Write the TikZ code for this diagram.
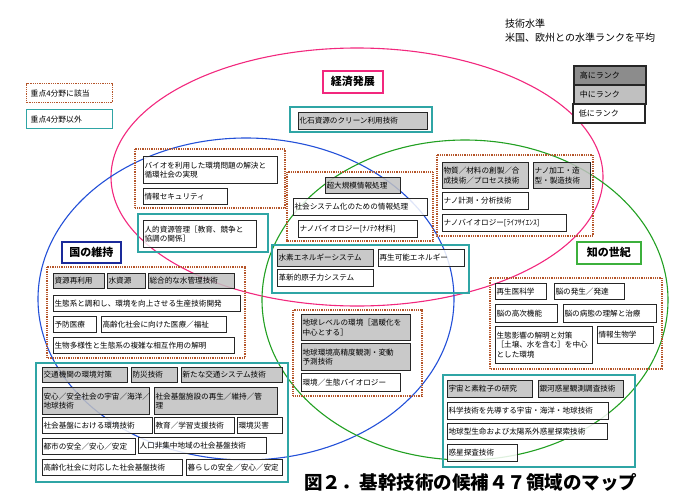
\documentclass[tikz,border=0pt]{standalone}
\usepackage{fontspec}
\newfontfamily\jp{Noto Sans CJK JP}
\usepackage{tikz}
\definecolor{ringpink}{HTML}{F2287E}
\definecolor{ringblue}{HTML}{2350D8}
\definecolor{ringgreen}{HTML}{22A022}
\definecolor{goalblue}{HTML}{1A2A9A}
\definecolor{goalgreen}{HTML}{3CB03C}
\definecolor{grpteal}{HTML}{2FA5A5}
\definecolor{grpbrown}{HTML}{B5552A}
\definecolor{rankhi}{HTML}{8C8C8C}
\definecolor{rankmid}{HTML}{C0C0C0}
\tikzset{
    tech/.style={draw=black!85, line width=1.1pt, fill=white, fill opacity=0.85, text opacity=1,
        anchor=north west, inner xsep=1pt, inner ysep=1pt, align=left,
        font=\jp\fontsize{7.6}{9.6}\selectfont},
    techhi/.style={tech, fill=rankmid},
    focus/.style={draw=grpbrown, line width=1.6pt, dash pattern=on 1pt off 0.8pt},
    nonfocus/.style={draw=grpteal, line width=1.2pt},
    ring/.style={line width=1.1pt},
    goal/.style={draw, line width=1.5pt, fill=white, anchor=north west, inner sep=0pt,
        font=\jp\bfseries\fontsize{11}{13}\selectfont},
    rank/.style={draw=black!85, line width=1.5pt, anchor=north west, inner xsep=6pt, inner ysep=0pt,
        text width=60pt, minimum height=19pt, align=left, font=\jp\fontsize{8}{10}\selectfont},
    legend/.style={line width=1.4pt, fill=white, anchor=north west, inner xsep=4pt, inner ysep=0pt,
        text width=78pt, minimum height=19pt, align=left, font=\jp\fontsize{7.8}{10}\selectfont}
}

\begin{document}
\begin{tikzpicture}[x=1pt, y=-1pt]
\useasboundingbox (0,0) rectangle (694,493);

% --- The three goals ---
\draw[ring, ringpink] (357,177) ellipse [x radius=246pt, y radius=129pt];
\draw[ring, ringblue] (246,299) ellipse [x radius=208pt, y radius=161pt];
\draw[ring, ringgreen] (465,300) ellipse [x radius=203pt, y radius=160pt];

\node[goal, draw=ringpink, minimum width=60pt, minimum height=22pt] (keizai) at (322,70) {経済発展};
\node[goal, draw=goalblue, minimum width=59pt, minimum height=21pt] (kuni) at (61,241) {国の維持};
\node[goal, draw=goalgreen, minimum width=64pt, minimum height=22pt] (chi) at (576,241) {知の世紀};

% --- Legend ---
\node[legend, draw=grpbrown, dash pattern=on 1pt off 0.8pt] (lgfocus) at (26,83) {重点4分野に該当};
\node[legend, draw=grpteal] (lgother) at (26,109) {重点4分野以外};

\node[anchor=north west, align=left, inner sep=0pt, font=\jp\fontsize{10}{14}\selectfont] (note) at (505,19)
    {技術水準\\米国、欧州との水準ランクを平均};
\node[rank, fill=rankhi] (rhi) at (573,65) {高にランク};
\node[rank, fill=rankmid] (rmid) at (573,84) {中にランク};
\node[rank, fill=white] (rlow) at (572,103) {低にランク};

% --- Groups (focus = dotted, others = teal) ---
\draw[nonfocus] (290,107) rectangle (432,132);
\draw[focus] (135,149) rectangle (285,208);
\draw[nonfocus] (138,214) rectangle (268,252);
\draw[focus] (287,172) rectangle (433,241);
\draw[focus] (437,155) rectangle (593,236);
\draw[nonfocus] (272,245) rectangle (469,293);
\draw[focus] (47,267) rectangle (245,358);
\draw[focus] (293,310) rectangle (422,396);
\draw[focus] (490,278) rectangle (662,369);
\draw[nonfocus] (36,363) rectangle (288,482);
\draw[nonfocus] (443,375) rectangle (635,467);

% --- Economy ---
\node[techhi, text width=127pt, minimum height=17pt] (fossil) at (298,112) {化石資源のクリーン利用技術};
\node[tech, text width=132pt, minimum height=27pt] (biocycle) at (143,156) {バイオを利用した環境問題の解決と\\循環社会の実現};
\node[tech, text width=82pt, minimum height=16pt] (infosec) at (143,188) {情報セキュリティ};
\node[tech, text width=111pt, minimum height=27pt] (human) at (143,220) {人的資源管理［教育、競争と\\協調の関係］};
\node[techhi, text width=73pt, minimum height=16pt] (hugeinfo) at (325,177) {超大規模情報処理};
\node[tech, text width=132pt, minimum height=17pt] (socinfo) at (293,198) {社会システム化のための情報処理};
\node[tech, text width=117pt, minimum height=17pt] (nanomat) at (298,220) {ナノバイオロジー[ﾅﾉﾃｸ材料]};
\node[techhi, text width=84pt, minimum height=26pt] (material) at (442,162) {物質／材料の創製／合\\成技術／プロセス技術};
\node[techhi, text width=55pt, minimum height=26pt] (nanofab) at (533,162) {ナノ加工・造\\型・製造技術};
\node[tech, text width=84pt, minimum height=17pt] (nanomeas) at (442,192) {ナノ計測・分析技術};
\node[tech, text width=122pt, minimum height=17pt] (nanolife) at (442,214) {ナノバイオロジー[ﾗｲﾌｻｲｴﾝｽ]};
\node[techhi, text width=94pt, minimum height=17pt] (hydrogen) at (277,249) {水素エネルギーシステム};
\node[tech, text width=84pt, minimum height=17pt] (renew) at (378,249) {再生可能エネルギー};
\node[tech, text width=94pt, minimum height=17pt] (nuclear) at (277,269) {革新的原子力システム};

% --- Nation ---
\node[techhi, text width=49pt, minimum height=15pt] (recycle) at (53,273) {資源再利用};
\node[techhi, text width=36pt, minimum height=15pt] (water) at (107,273) {水資源};
\node[techhi, text width=84pt, minimum height=15pt] (watermgmt) at (148,273) {総合的な水管理技術};
\node[tech, text width=185pt, minimum height=16pt] (ecoprod) at (53,295) {生態系と調和し、環境を向上させる生産技術開発};
\node[tech, text width=41pt, minimum height=16pt] (prevmed) at (53,316) {予防医療};
\node[tech, text width=123pt, minimum height=16pt] (agedmed) at (101,316) {高齢化社会に向けた医療／福祉};
\node[tech, text width=179pt, minimum height=16pt] (biodiv) at (53,337) {生物多様性と生態系の複雑な相互作用の解明};
\node[techhi, text width=107pt, minimum height=26pt] (warming) at (301,314) {地球レベルの環境［温暖化を\\中心とする］};
\node[techhi, text width=107pt, minimum height=27pt] (earthobs) at (301,343) {地球環境高精度観測・変動\\予測技術};
\node[tech, text width=97pt, minimum height=18pt] (ecobio) at (301,373) {環境／生態バイオロジー};

\node[techhi, text width=83pt, minimum height=15pt] (traffic) at (42,367) {交通機関の環境対策};
\node[techhi, text width=44pt, minimum height=15pt] (disaster) at (131,367) {防災技術};
\node[techhi, text width=99pt, minimum height=15pt] (newtraffic) at (181,367) {新たな交通システム技術};
\node[techhi, text width=105pt, minimum height=27pt] (safespace) at (42,387) {安心／安全社会の宇宙／海洋／\\地球技術};
\node[techhi, text width=121pt, minimum height=27pt] (infra) at (154,387) {社会基盤施設の再生／維持／管\\理};
\node[tech, text width=108pt, minimum height=16pt] (infraenv) at (42,417) {社会基盤における環境技術};
\node[tech, text width=78pt, minimum height=16pt] (edu) at (154,417) {教育／学習支援技術};
\node[tech, text width=43pt, minimum height=16pt] (envdis) at (237,417) {環境災害};
\node[tech, text width=91pt, minimum height=16pt] (urban) at (42,438) {都市の安全／安心／安定};
\node[tech, text width=126pt, minimum height=16pt] (rural) at (138,437) {人口非集中地域の社会基盤技術};
\node[tech, text width=138pt, minimum height=16pt] (agedinfra) at (42,459) {高齢化社会に対応した社会基盤技術};
\node[tech, text width=94pt, minimum height=16pt] (life) at (186,459) {暮らしの安全／安心／安定};

% --- Knowledge ---
\node[tech, text width=49pt, minimum height=16pt] (regen) at (495,283) {再生医科学};
\node[tech, text width=68pt, minimum height=16pt] (braindev) at (554,283) {脳の発生／発達};
\node[tech, text width=60pt, minimum height=18pt] (brainhi) at (495,304) {脳の高次機能};
\node[tech, text width=91pt, minimum height=18pt] (braindis) at (563,304) {脳の病態の理解と治療};
\node[tech, text width=95pt, minimum height=37pt] (ecoimpact) at (495,326) {生態影響の解明と対策\\［土壌、水を含む］を中心\\とした環境};
\node[tech, text width=54pt, minimum height=17pt] (infobio) at (597,326) {情報生物学};

\node[techhi, text width=83pt, minimum height=17pt] (particle) at (447,380) {宇宙と素粒子の研究};
\node[techhi, text width=83pt, minimum height=17pt] (galaxy) at (538,380) {銀河惑星観測調査技術};
\node[tech, text width=159pt, minimum height=17pt] (leadsci) at (447,402) {科学技術を先導する宇宙・海洋・地球技術};
\node[tech, text width=158pt, minimum height=16pt] (exoplanet) at (447,423) {地球型生命および太陽系外惑星探索技術};
\node[tech, text width=68pt, minimum height=17pt] (planet) at (447,444) {惑星探査技術};

% --- Caption ---
\node[anchor=west, inner sep=0pt, font=\jp\bfseries\fontsize{18.5}{20}\selectfont] (caption) at (304,482)
    {図２．基幹技術の候補４７領域のマップ};

\end{tikzpicture}
\end{document}
